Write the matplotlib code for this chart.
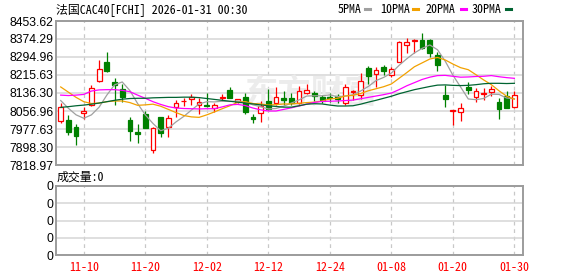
import matplotlib
matplotlib.use("Agg")
from matplotlib import pyplot as plt
from matplotlib.lines import Line2D

# trading days shown on the chart
dates = ["11-05", "11-06", "11-07", "11-10", "11-11", "11-12", "11-13", "11-14",
         "11-17", "11-18", "11-19", "11-20", "11-21", "11-24", "11-25", "11-26",
         "11-27", "11-28", "12-01", "12-02", "12-03", "12-04", "12-05", "12-08",
         "12-09", "12-10", "12-11", "12-12", "12-15", "12-16", "12-17", "12-18",
         "12-19", "12-22", "12-23", "12-24", "12-29", "12-30", "12-31", "01-02",
         "01-05", "01-06", "01-07", "01-08", "01-09", "01-12", "01-13", "01-14",
         "01-15", "01-16", "01-19", "01-20", "01-21", "01-22", "01-23", "01-26",
         "01-27", "01-28", "01-29", "01-30"]

opens = [8011.5, 8017.3, 7985.0, 8046.7, 8083.4, 8190.7, 8271.5, 8184.8, 8152.5, 8017.3,
         7964.4, 8045.2, 7885.1, 8029.0, 7985.0, 8076.0, 8099.6, 8108.4, 8082.0, 8082.0,
         8070.2, 8115.7, 8149.5, 8098.1, 8117.2, 8032.0, 8046.7, 8101.0, 8090.8, 8112.8,
         8112.8, 8090.8, 8134.9, 8134.9, 8117.2, 8117.2, 8123.1, 8090.8, 8142.2, 8127.5,
         8245.0, 8220.0, 8249.4, 8215.6, 8274.4, 8346.4, 8365.5, 8369.9, 8369.9, 8303.8,
         8127.5, 8057.0, 8051.1, 8161.3, 8120.2, 8131.9, 8142.2, 8098.1, 8123.1, 8073.1]
highs = [8090.8, 8039.4, 7999.7, 8073.1, 8171.6, 8281.7, 8317.0, 8202.4, 8174.5, 8032.0,
         7999.7, 8058.5, 7985.0, 8032.0, 8039.4, 8105.5, 8112.8, 8131.9, 8112.8, 8137.8,
         8093.7, 8131.9, 8164.2, 8111.3, 8137.8, 8043.8, 8102.5, 8152.5, 8161.3, 8146.6,
         8137.8, 8167.2, 8176.0, 8146.6, 8126.0, 8134.9, 8131.9, 8176.0, 8149.5, 8225.9,
         8255.3, 8252.4, 8259.7, 8252.4, 8367.0, 8378.7, 8372.8, 8399.3, 8372.8, 8318.5,
         8171.6, 8061.4, 8090.8, 8186.3, 8156.9, 8156.9, 8167.2, 8112.8, 8146.6, 8146.6]
lows = [8005.6, 7951.2, 7908.6, 8021.7, 8079.0, 8186.3, 8227.4, 8084.9, 8098.1, 7926.3,
        7917.4, 7980.0, 7873.4, 7943.9, 7943.9, 8029.0, 8079.0, 8083.4, 8043.8, 8073.0,
        8054.0, 8102.5, 8112.8, 8093.7, 8043.8, 8005.6, 8010.0, 8061.4, 8083.4, 8083.4,
        8083.4, 8087.9, 8131.9, 8102.5, 8090.8, 8098.1, 8090.8, 8083.4, 8105.5, 8108.4,
        8176.0, 8161.3, 8215.6, 8205.4, 8272.9, 8314.0, 8311.1, 8328.8, 8293.5, 8234.7,
        8073.0, 7995.3, 8014.4, 8131.9, 8098.1, 8105.5, 8123.1, 8021.7, 8068.7, 8068.7]
closes = [8073.1, 7965.9, 7946.8, 8057.0, 8156.9, 8240.6, 8233.3, 8173.0, 8120.2, 7970.3,
          7954.1, 7983.5, 7980.6, 7961.5, 8024.7, 8093.7, 8102.5, 8120.2, 8098.1, 8077.6,
          8084.9, 8120.2, 8115.7, 8108.4, 8054.1, 8023.2, 8079.0, 8064.3, 8120.2, 8105.5,
          8092.2, 8146.6, 8149.5, 8123.1, 8105.5, 8112.8, 8108.4, 8164.2, 8146.6, 8190.7,
          8212.7, 8237.7, 8234.7, 8240.6, 8362.5, 8359.6, 8368.4, 8333.2, 8314.0, 8259.7,
          8109.9, 8059.9, 8068.7, 8149.5, 8145.1, 8134.9, 8153.9, 8065.8, 8071.7, 8127.5]

ma5 = [8103, 8069, 8040, 8025, 8040, 8074, 8127, 8172, 8185, 8147,
       8090, 8040, 8002, 7970, 7981, 8009, 8033, 8061, 8088, 8098,
       8097, 8100, 8099, 8101, 8097, 8084, 8076, 8066, 8068, 8078,
       8092, 8106, 8123, 8124, 8124, 8128, 8120, 8123, 8128, 8145,
       8165, 8191, 8205, 8224, 8258, 8287, 8313, 8333, 8348, 8327,
       8277, 8215, 8163, 8110, 8107, 8112, 8131, 8130, 8114, 8111]
ma10 = [8163, 8140, 8117, 8098, 8090, 8092, 8098, 8101, 8101, 8094,
        8082, 8084, 8087, 8078, 8064, 8050, 8037, 8031, 8029, 8040,
        8053, 8067, 8080, 8095, 8098, 8090, 8088, 8083, 8085, 8088,
        8088, 8091, 8094, 8096, 8101, 8110, 8113, 8123, 8126, 8134,
        8146, 8155, 8164, 8176, 8201, 8226, 8252, 8269, 8286, 8293,
        8282, 8264, 8248, 8239, 8217, 8194, 8173, 8146, 8122, 8109]
ma20 = [8127, 8125, 8127, 8130, 8145, 8150, 8151, 8151, 8148, 8142,
        8127, 8113, 8098, 8086, 8076, 8070, 8068, 8067, 8066, 8067,
        8067, 8075, 8084, 8086, 8081, 8070, 8062, 8057, 8057, 8064,
        8071, 8079, 8087, 8095, 8099, 8100, 8101, 8103, 8105, 8111,
        8117, 8123, 8129, 8136, 8151, 8168, 8182, 8196, 8206, 8213,
        8214, 8210, 8206, 8207, 8209, 8210, 8213, 8208, 8204, 8201]
ma30 = [8073, 8076, 8080, 8083, 8087, 8092, 8098, 8104, 8109, 8112,
        8113, 8113, 8115, 8116, 8117, 8117, 8118, 8118, 8116, 8112,
        8108, 8104, 8100, 8096, 8092, 8088, 8084, 8080, 8077, 8074,
        8074, 8080, 8087, 8089, 8088, 8083, 8079, 8079, 8080, 8087,
        8096, 8104, 8113, 8122, 8133, 8142, 8151, 8158, 8165, 8171,
        8172, 8170, 8169, 8170, 8173, 8177, 8179, 8179, 8178, 8179]

price_labels = ["8453.62", "8374.29", "8294.96", "8215.63", "8136.30",
                "8056.96", "7977.63", "7898.30", "7818.97"]
volume = [0] * len(dates)
volume_labels = ["0", "0", "0", "0", "0"]

title = "法国CAC40[FCHI] 2026-01-31 00:30"
ma_names = ["5PMA", "10PMA", "20PMA", "30PMA"]

RED = "#ff0000"
GREEN = "#008000"
MA_COLORS = ["#a0a0a0", "#f2a100", "#ff00ff", "#006432"]
CJK = ["Noto Sans Mono CJK SC", "Noto Sans CJK SC", "DejaVu Sans"]
NUM = ["Liberation Sans", "DejaVu Sans"]

W, H = 578, 276


def box(l, t, r, b):
    return [l / W, 1 - b / H, (r - l) / W, (b - t) / H]


def style_axes(ax):
    for s in ax.spines.values():
        s.set_color("#9c9c9c")
        s.set_linewidth(1.4)
    ax.set_axisbelow(True)
    ax.yaxis.grid(True, color="#d6d6d6", lw=1.1, ls="-")
    ax.xaxis.grid(True, color="#c8c8c8", lw=0.9, ls=(0, (3, 3)))
    ax.tick_params(length=0, pad=2)
    ax.set_xlim(-0.61, 60.12)


def main() -> None:
    fig = plt.figure(figsize=(W / 100, H / 100), dpi=100)
    ax = fig.add_axes(box(56, 21, 523, 165))
    axv = fig.add_axes(box(56, 186, 523, 255))

    xs = list(range(len(dates)))
    tick_idx = xs[3::8]

    # price panel
    style_axes(ax)
    prices = [float(p) for p in price_labels]
    ax.set_ylim(min(prices), max(prices))
    ax.set_yticks(prices)
    ax.set_yticklabels(price_labels, family=NUM, fontsize=8.8)
    ax.set_xticks(tick_idx)
    ax.set_xticklabels([])

    ax.text(0.545, 0.49, "东方财富", transform=ax.transAxes, ha="center", va="center",
            fontsize=24, fontweight="bold", color="#ececec", family=CJK[1:], zorder=1)

    for i in xs:
        o, h, l, c = opens[i], highs[i], lows[i], closes[i]
        up = c >= o
        col = RED if up else GREEN
        ax.vlines(i, l, h, color=col, lw=0.9, zorder=3)
        lo, hi = min(o, c), max(o, c)
        ax.bar(i, max(hi - lo, 0.8), bottom=lo, width=0.62,
               facecolor="white" if up else col, edgecolor=col, lw=0.9, zorder=4)

    for vals, col in zip([ma5, ma10, ma20, ma30], MA_COLORS):
        ax.plot(xs, vals, color=col, lw=0.9, zorder=5)

    # header
    fig.text(56 / W, 1 - 9.5 / H, title, ha="left", va="center", fontsize=8.6, family=CJK)
    text_x = [338, 380, 426, 472]
    mark_x = [365, 413, 461, 506]
    for name, tx, mx, col in zip(ma_names, text_x, mark_x, MA_COLORS):
        fig.text(tx / W, 1 - 9.5 / H, name, ha="left", va="center", fontsize=8.6, family=CJK)
        fig.add_artist(Line2D([mx / W, (mx + 5) / W], [1 - 8.5 / H, 1 - 8.5 / H],
                              color=col, lw=2.2, transform=fig.transFigure))

    # volume panel
    style_axes(axv)
    axv.bar(xs, volume, width=0.62, color=RED)
    axv.set_ylim(0, 1)
    axv.set_yticks([0, 0.25, 0.5, 0.75, 1])
    axv.set_yticklabels(volume_labels, family=NUM, fontsize=8.8)
    axv.set_xticks(tick_idx)
    axv.set_xticklabels([dates[i] for i in tick_idx], color=RED, fontsize=8.6, family=CJK)
    axv.tick_params(axis="x", pad=4)
    fig.text(57 / W, 1 - 177.5 / H, "成交量:0", ha="left", va="center", fontsize=8.6, family=CJK)

    fig.savefig("out.png", dpi=100)


if __name__ == "__main__":
    main()
